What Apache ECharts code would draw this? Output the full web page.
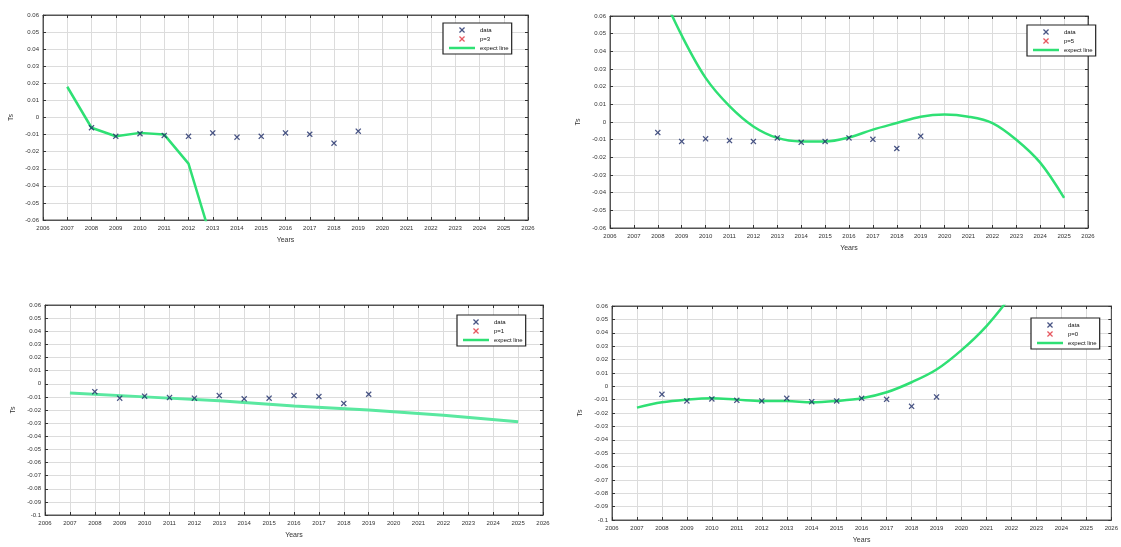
<!DOCTYPE html>
<html>
<head>
<meta charset="utf-8">
<script src="https://cdn.jsdelivr.net/npm/echarts@6/dist/echarts.min.js"></script>
<style>
  html, body { margin: 0; padding: 0; background: #fff; }
  #chart { width: 1121px; height: 547px; }
</style>
</head>
<body>
<div id="chart"></div>
<script>
  // observed data (same in every panel)
  var years = [2008, 2009, 2010, 2011, 2012, 2013, 2014, 2015, 2016, 2017, 2018, 2019];
  var tsData = [-0.006, -0.011, -0.0095, -0.0105, -0.011, -0.009, -0.0115, -0.011, -0.009, -0.0098, -0.015, -0.008];

  // expected lines
  var fitYears1 = [2007, 2008, 2009, 2010, 2011, 2012, 2013];
  var fit1 = [0.018, -0.006, -0.011, -0.009, -0.010, -0.027, -0.074];

  var fitYears2 = [2008, 2009, 2010, 2011, 2012, 2013, 2014, 2015, 2016, 2017, 2018, 2019, 2020, 2021, 2022, 2023, 2024, 2025];
  var fit2 = [0.078, 0.049, 0.025, 0.009, -0.0025, -0.009, -0.011, -0.011, -0.0087, -0.0043, -0.0006, 0.003, 0.0042, 0.003, -0.0006, -0.010, -0.023, -0.043];

  var fitYears3 = [2007, 2010, 2013, 2016, 2019, 2022, 2025];
  var fit3 = [-0.007, -0.010, -0.013, -0.017, -0.020, -0.024, -0.029];

  var fitYears4 = [2007, 2008, 2009, 2010, 2011, 2012, 2013, 2014, 2015, 2016, 2017, 2018, 2019, 2020, 2021, 2022];
  var fit4 = [-0.016, -0.012, -0.010, -0.009, -0.010, -0.011, -0.011, -0.012, -0.011, -0.009, -0.0045, 0.003, 0.0125, 0.027, 0.045, 0.068];

  var pNames = ['p=3', 'p=5', 'p=1', 'p=0'];

  var xMin = 2006, xMax = 2026;
  var yRanges = [[-0.06, 0.06], [-0.06, 0.06], [-0.1, 0.06], [-0.1, 0.06]];

  var panels = [
    {left: 43, top: 15, right: 528, bottom: 220, legend: [443, 23]},
    {left: 610, top: 16, right: 1088, bottom: 228, legend: [1027, 25]},
    {left: 45, top: 305, right: 543, bottom: 515, legend: [457, 315]},
    {left: 612, top: 306, right: 1118, bottom: 520, legend: [1031, 318]}
  ];
  var fits = [[fitYears1, fit1, false], [fitYears2, fit2, true], [fitYears3, fit3, false], [fitYears4, fit4, true]];

  var xMark = 'path://M0,1.5L1.5,0L5,3.5L8.5,0L10,1.5L6.5,5L10,8.5L8.5,10L5,6.5L1.5,10L0,8.5L3.5,5Z';
  var lineIcon = 'path://M0,0L52,0L52,5L0,5Z';
  var font = 'Liberation Sans, Arial, sans-serif';

  function pairs(xs, ys) {
    return xs.map(function (x, i) { return [x, ys[i]]; });
  }

  var grid = [], xAxis = [], yAxis = [], series = [], legend = [];

  panels.forEach(function (p, i) {
    grid.push({left: p.left, top: p.top, width: p.right - p.left, height: p.bottom - p.top,
      show: true, borderColor: '#555', borderWidth: 1, backgroundColor: '#fff'});

    // bottom / left axes with labels
    xAxis.push({
      type: 'value', gridIndex: i, min: xMin, max: xMax, interval: 1,
      name: 'Years', nameLocation: 'middle', nameGap: 17,
      nameTextStyle: {fontSize: 7, color: '#333', fontFamily: font},
      axisLine: {show: true, onZero: false, lineStyle: {color: '#555'}},
      axisTick: {show: true, inside: true, length: 3, lineStyle: {color: '#333'}},
      axisLabel: {fontSize: 6, color: '#333', fontFamily: font, margin: 5, formatter: function (v) { return String(v); }},
      splitLine: {show: true, lineStyle: {color: '#dcdcdc', width: 1}}
    });
    yAxis.push({
      type: 'value', gridIndex: i, min: yRanges[i][0], max: yRanges[i][1], interval: 0.01,
      name: 'Ts', nameLocation: 'middle', nameGap: 28, nameRotate: 90,
      nameTextStyle: {fontSize: 7, color: '#333', fontFamily: font},
      axisLine: {show: true, onZero: false, lineStyle: {color: '#555'}},
      axisTick: {show: true, inside: true, length: 3, lineStyle: {color: '#333'}},
      axisLabel: {fontSize: 6, color: '#333', fontFamily: font, margin: 4,
        formatter: function (v) { return String(parseFloat(v.toFixed(2))); }},
      splitLine: {show: true, lineStyle: {color: '#dcdcdc', width: 1}}
    });
  });

  // top / right axes only carry the inside ticks
  panels.forEach(function (p, i) {
    xAxis.push({
      type: 'value', gridIndex: i, position: 'top', min: xMin, max: xMax, interval: 1,
      axisLine: {show: true, onZero: false, lineStyle: {color: '#555'}},
      axisTick: {show: true, inside: true, length: 3, lineStyle: {color: '#333'}},
      axisLabel: {show: false}, splitLine: {show: false}
    });
    yAxis.push({
      type: 'value', gridIndex: i, position: 'right', min: yRanges[i][0], max: yRanges[i][1], interval: 0.01,
      axisLine: {show: true, onZero: false, lineStyle: {color: '#555'}},
      axisTick: {show: true, inside: true, length: 3, lineStyle: {color: '#333'}},
      axisLabel: {show: false}, splitLine: {show: false}
    });
  });

  panels.forEach(function (p, i) {
    var green = i === 2 ? '#5ae8a0' : '#2fe074';
    series.push({
      name: 'expect line', type: 'line', xAxisIndex: i, yAxisIndex: i,
      data: pairs(fits[i][0], fits[i][1]), smooth: fits[i][2] ? 0.35 : false,
      symbol: 'none', clip: true,
      lineStyle: {color: green, width: i === 2 ? 3 : 2.5},
      itemStyle: {color: green}, z: 2
    });
    series.push({
      name: 'data', type: 'scatter', xAxisIndex: i, yAxisIndex: i,
      data: pairs(years, tsData), symbol: xMark, symbolSize: 6,
      itemStyle: {color: '#1c2a66'}, z: 3
    });
    series.push({
      name: pNames[i], type: 'scatter', xAxisIndex: i, yAxisIndex: i,
      data: [], symbol: xMark, symbolSize: 6,
      itemStyle: {color: '#e0303a'}
    });
    legend.push({
      data: [{name: 'data', icon: xMark}, {name: pNames[i], icon: xMark}, {name: 'expect line', icon: lineIcon}],
      orient: 'vertical', left: p.legend[0], top: p.legend[1],
      backgroundColor: '#fff', borderColor: '#222', borderWidth: 1.2,
      padding: [4, 3, 3, 6], itemGap: 3, itemWidth: 26, itemHeight: 6,
      selectedMode: false,
      textStyle: {fontSize: 6, color: '#111', fontFamily: font}
    });
  });

  var chart = echarts.init(document.getElementById('chart'));
  chart.setOption({
    animation: false,
    backgroundColor: '#fff',
    grid: grid,
    xAxis: xAxis,
    yAxis: yAxis,
    legend: legend,
    series: series
  });
</script>
</body>
</html>
